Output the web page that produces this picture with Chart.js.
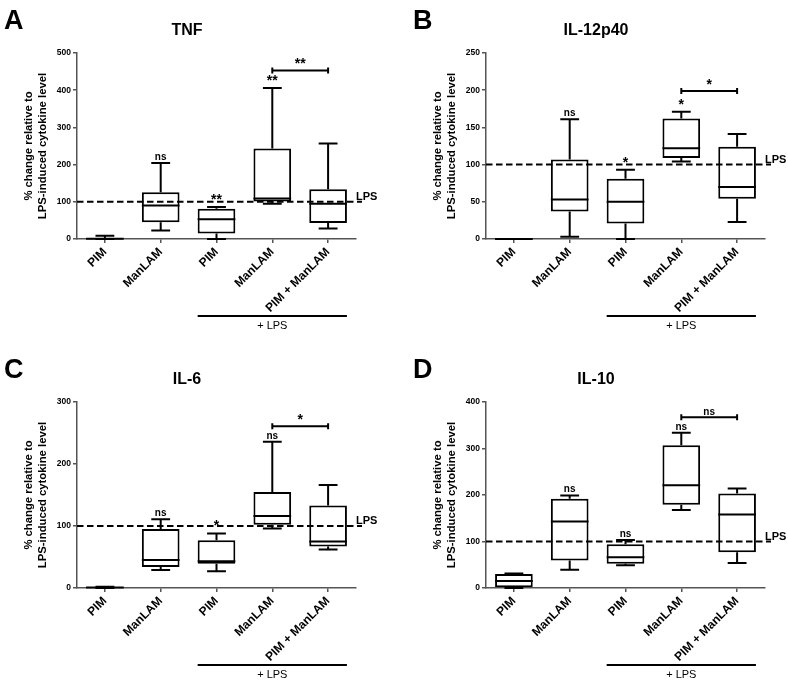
<!DOCTYPE html>
<html>
<head>
<meta charset="utf-8">
<script src="https://cdn.jsdelivr.net/npm/chart.js@4.4.1/dist/chart.umd.min.js"></script>
<style>
  body { margin: 0; background: #fff; }
  #fig { position: relative; width: 788px; height: 680px; overflow: hidden; }
  #fig canvas { position: absolute; }
</style>
</head>
<body>
<div id="fig">
  <canvas id="tnf" width="380" height="340" style="left:0;top:-9px"></canvas>
  <canvas id="il12" width="380" height="340" style="left:409px;top:-9px"></canvas>
  <canvas id="il6" width="380" height="340" style="left:0;top:340px"></canvas>
  <canvas id="il10" width="380" height="340" style="left:409px;top:340px"></canvas>
</div>
<script>
const FONT = '"Liberation Sans", Arial, sans-serif';
Chart.defaults.font.family = FONT;

const groups = ['PIM', 'ManLAM', 'PIM', 'ManLAM', 'PIM + ManLAM'];

// TNF
const tnfMin = [0, 23, 0, 95, 28];
const tnfQ1 = [0, 45, 15, 101, 43];
const tnfMed = [1, 90, 53, 109, 95];
const tnfQ3 = [2, 126, 81, 243, 134];
const tnfMax = [9, 204, 86, 406, 257];
const tnfMarks = ['', 'ns', '**', '**', ''];
const tnfBracket = '**';
const tnfBracketAt = 453;

// IL-12p40
const il12Min = [0, 3, 0, 104, 23];
const il12Q1 = [0, 37, 21, 109, 54];
const il12Med = [0, 53, 50, 122, 70];
const il12Q3 = [0, 107, 81, 162, 124];
const il12Max = [0, 161, 93, 171, 141];
const il12Marks = ['', 'ns', '*', '*', ''];
const il12Bracket = '*';
const il12BracketAt = 199;

// IL-6
const il6Min = [0, 29, 27, 96, 62];
const il6Q1 = [0, 34, 39, 102, 67];
const il6Med = [1, 45, 43, 116, 75];
const il6Q3 = [1, 95, 77, 155, 133];
const il6Max = [2, 111, 88, 236, 166];
const il6Marks = ['', 'ns', '*', 'ns', ''];
const il6Bracket = '*';
const il6BracketAt = 261;

// IL-10
const il10Min = [0, 39, 49, 168, 54];
const il10Q1 = [0, 59, 52, 179, 77];
const il10Med = [15, 143, 66, 221, 158];
const il10Q3 = [30, 192, 94, 307, 203];
const il10Max = [31, 199, 103, 334, 214];
const il10Marks = ['', 'ns', 'ns', 'ns', ''];
const il10Bracket = 'ns';
const il10BracketAt = 367;

const lpsLevel = 100;

// whiskers, medians, LPS line, significance marks and panel letter
function boxExtras(letter, s) {
  return {
    id: 'boxExtras',
    afterDatasetsDraw(chart) {
      const { ctx, chartArea: area, scales: { y } } = chart;
      const bars = chart.getDatasetMeta(0).data;
      const markFont = (t) => (t === 'ns' ? 'bold 10px ' : 'bold 14px ') + FONT;
      ctx.save();
      ctx.strokeStyle = '#000';
      ctx.fillStyle = '#000';
      ctx.lineWidth = 2;

      bars.forEach((bar, i) => {
        const cx = bar.x, hw = bar.width / 2, cw = bar.width / 4;
        const pMin = y.getPixelForValue(s.min[i]);
        const pQ1 = y.getPixelForValue(s.q1[i]);
        const pMed = y.getPixelForValue(s.med[i]);
        const pQ3 = y.getPixelForValue(s.q3[i]);
        const pMax = y.getPixelForValue(s.max[i]);
        ctx.beginPath();
        ctx.moveTo(cx - hw, pMed); ctx.lineTo(cx + hw, pMed);
        ctx.moveTo(cx, pQ3); ctx.lineTo(cx, pMax);
        ctx.moveTo(cx - cw, pMax); ctx.lineTo(cx + cw, pMax);
        ctx.moveTo(cx, pQ1); ctx.lineTo(cx, pMin);
        ctx.moveTo(cx - cw, pMin); ctx.lineTo(cx + cw, pMin);
        ctx.stroke();
        if (s.marks[i]) {
          ctx.font = markFont(s.marks[i]);
          ctx.textAlign = 'center';
          ctx.textBaseline = 'alphabetic';
          ctx.fillText(s.marks[i], cx, pMax - 3);
        }
      });

      // LPS reference
      const pRef = y.getPixelForValue(lpsLevel);
      ctx.setLineDash([6.5, 3.5]);
      ctx.beginPath();
      ctx.moveTo(area.left, pRef);
      ctx.lineTo(area.right + 6, pRef);
      ctx.stroke();
      ctx.setLineDash([]);
      ctx.font = 'bold 11px ' + FONT;
      ctx.textAlign = 'left';
      ctx.fillText('LPS', area.right, pRef - 2);

      // bracket between ManLAM+LPS and PIM+ManLAM
      const bx0 = bars[3].x, bx1 = bars[4].x, pb = y.getPixelForValue(s.bracketAt);
      ctx.beginPath();
      ctx.moveTo(bx0, pb); ctx.lineTo(bx1, pb);
      ctx.moveTo(bx0, pb - 3); ctx.lineTo(bx0, pb + 3);
      ctx.moveTo(bx1, pb - 3); ctx.lineTo(bx1, pb + 3);
      ctx.stroke();
      ctx.font = markFont(s.bracket);
      ctx.textAlign = 'center';
      ctx.fillText(s.bracket, (bx0 + bx1) / 2, pb - 2);

      // + LPS group line
      const lx0 = bars[2].x - bars[2].width / 2;
      const lx1 = bars[4].x + bars[4].width / 2;
      const ly = area.bottom + 77;
      ctx.beginPath();
      ctx.moveTo(lx0, ly); ctx.lineTo(lx1, ly);
      ctx.stroke();
      ctx.font = '11px ' + FONT;
      ctx.fillText('+ LPS', (lx0 + lx1) / 2, ly + 13);

      // panel letter
      ctx.font = 'bold 27px ' + FONT;
      ctx.textAlign = 'left';
      ctx.fillText(letter, 4, 38);
      ctx.restore();
    }
  };
}

function makePanel(id, letter, title, yMax, step, s) {
  new Chart(document.getElementById(id), {
    type: 'bar',
    data: {
      labels: groups,
      datasets: [{
        data: s.q1.map((v, i) => [v, s.q3[i]]),
        backgroundColor: '#fff',
        borderColor: '#000',
        borderWidth: 2,
        borderSkipped: false,
        barPercentage: 0.675,
        categoryPercentage: 1
      }]
    },
    options: {
      responsive: false,
      animation: false,
      devicePixelRatio: 1,
      layout: { padding: { left: 18, right: 24, top: 0, bottom: 0 } },
      plugins: {
        legend: { display: false },
        tooltip: { enabled: false },
        title: {
          display: true,
          text: title,
          color: '#000',
          font: { size: 16, weight: 'bold', lineHeight: 1.2 },
          padding: { top: 30.4, bottom: 12.4 }
        }
      },
      scales: {
        x: {
          afterFit: (sc) => { sc.height = 92; },
          grid: { offset: false, drawOnChartArea: false, tickLength: 4, color: '#555', lineWidth: 1.5 },
          border: { color: '#555', width: 1.5 },
          ticks: {
            minRotation: 45, maxRotation: 45, autoSkip: false, padding: 2,
            color: '#000', font: { size: 12, weight: 'bold' }
          }
        },
        y: {
          min: 0,
          max: yMax,
          afterFit: (sc) => { sc.width = 59; },
          grid: { drawOnChartArea: false, tickLength: 4, color: '#555', lineWidth: 1.5 },
          border: { color: '#555', width: 1.5 },
          ticks: { stepSize: step, padding: 2, color: '#000', font: { size: 8.5, weight: 'bold' } },
          title: {
            display: true,
            text: ['% change relative to', 'LPS-induced cytokine level'],
            color: '#000',
            font: { size: 11.3, weight: 'bold', lineHeight: 1.24 },
            padding: { top: 4, bottom: 0 }
          }
        }
      }
    },
    plugins: [boxExtras(letter, s)]
  });
}

makePanel('tnf', 'A', 'TNF', 500, 100, {
  min: tnfMin, q1: tnfQ1, med: tnfMed, q3: tnfQ3, max: tnfMax,
  marks: tnfMarks, bracket: tnfBracket, bracketAt: tnfBracketAt
});
makePanel('il12', 'B', 'IL-12p40', 250, 50, {
  min: il12Min, q1: il12Q1, med: il12Med, q3: il12Q3, max: il12Max,
  marks: il12Marks, bracket: il12Bracket, bracketAt: il12BracketAt
});
makePanel('il6', 'C', 'IL-6', 300, 100, {
  min: il6Min, q1: il6Q1, med: il6Med, q3: il6Q3, max: il6Max,
  marks: il6Marks, bracket: il6Bracket, bracketAt: il6BracketAt
});
makePanel('il10', 'D', 'IL-10', 400, 100, {
  min: il10Min, q1: il10Q1, med: il10Med, q3: il10Q3, max: il10Max,
  marks: il10Marks, bracket: il10Bracket, bracketAt: il10BracketAt
});
</script>
</body>
</html>
